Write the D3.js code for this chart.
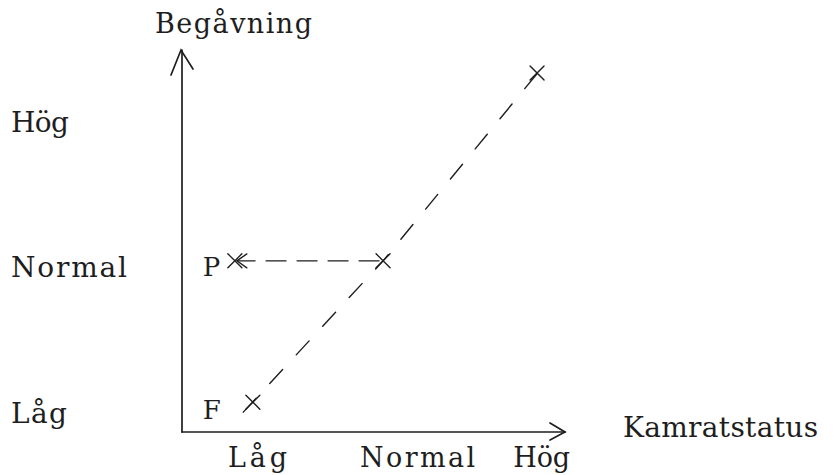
<!DOCTYPE html>
<html>
<head>
<meta charset="utf-8">
<script src="https://cdn.jsdelivr.net/npm/d3@7"></script>
<style>
  html, body { margin: 0; padding: 0; background: #fff; }
  svg { display: block; }
  text { font-family: "DejaVu Serif", "Liberation Serif", serif; fill: #1e1e1e; }
</style>
</head>
<body>
<svg id="chart" width="838" height="475"></svg>
<script>
// ---- data ----
const xTickLabels = ["Låg", "Normal", "Hög"];
const xTickPos    = [1.97, 6.15, 9.39];        // label centres on the Kamratstatus axis
const yTickLabels = ["Låg", "Normal", "Hög"];
const yTickPos    = [0.24, 4.06, 7.85];        // label baselines on the Begåvning axis

const crossNames  = ["F", "Normal", "Hög"];
const crossX      = [1.85, 5.25, 9.27];
const crossY      = [0.78, 4.48, 9.40];

const pointP      = { name: "P", x: 1.38, y: 4.48 };
const diagLineX   = [1.60, 5.25, 9.45];
const diagLineY   = [0.52, 4.48, 9.60];

const xTitle = "Kamratstatus";
const yTitle = "Begåvning";

// ---- scales ----
const W = 838, H = 475;
const x = d3.scaleLinear().domain([0, 10]).range([182, 565]);
const y = d3.scaleLinear().domain([0, 10]).range([432, 50]);

const svg = d3.select("#chart");
const ink = "#1e1e1e";

// axes
const g = svg.append("g").attr("stroke", ink).attr("stroke-width", 1.7)
  .attr("fill", "none").attr("stroke-linecap", "round");

g.append("line").attr("x1", x(0)).attr("y1", y(0)).attr("x2", x(0)).attr("y2", y(10));
g.append("line").attr("x1", x(0)).attr("y1", y(0)).attr("x2", x(10)).attr("y2", y(0));

// axis arrowheads (open)
g.append("path").attr("d", `M${x(0)-11},${y(10)+25} L${x(0)-1},${y(10)} L${x(0)+11},${y(10)+19}`);
g.append("path").attr("d", `M${x(10)-15},${y(0)-9} L${x(10)},${y(0)} L${x(10)-15},${y(0)+8}`);

// diagonal dashed line
const line = d3.line().x(d => x(d[0])).y(d => y(d[1]));
g.append("path")
  .datum(diagLineX.map((v, i) => [v, diagLineY[i]]))
  .attr("d", line)
  .attr("stroke-width", 1.4)
  .attr("stroke-dasharray", "19 20");

// horizontal dashed arrow from Normal to P
g.append("line")
  .attr("x1", x(crossX[1]) - 4).attr("y1", y(pointP.y))
  .attr("x2", x(pointP.x) + 3).attr("y2", y(pointP.y))
  .attr("stroke-width", 1.4)
  .attr("stroke-dasharray", "20 11");
g.append("path")
  .attr("d", `M${x(pointP.x)+12},${y(pointP.y)-7} L${x(pointP.x)+2},${y(pointP.y)} L${x(pointP.x)+12},${y(pointP.y)+7}`)
  .attr("stroke-width", 1.3);

// crosses
const crossData = crossNames.map((n, i) => ({ name: n, x: crossX[i], y: crossY[i] }))
  .concat([pointP]);
const s = 7;
crossData.forEach(d => {
  const cx = x(d.x), cy = y(d.y);
  g.append("path")
    .attr("d", `M${cx-s},${cy-s} L${cx+s},${cy+s} M${cx-s},${cy+s} L${cx+s},${cy-s}`)
    .attr("stroke-width", 1.4);
});

// point labels P and F
svg.append("text").text(pointP.name)
  .attr("x", x(pointP.x) - 32).attr("y", y(pointP.y) + 15)
  .attr("font-size", 26);
svg.append("text").text(crossNames[0])
  .attr("x", x(crossX[0]) - 50).attr("y", y(crossY[0]) + 17)
  .attr("font-size", 26);

// x tick labels
const xWidths = [59, 115, 57];
svg.selectAll("text.xt").data(xTickLabels).join("text")
  .attr("class", "xt")
  .attr("x", (d, i) => x(xTickPos[i]))
  .attr("y", y(0) + 35)
  .attr("text-anchor", "middle")
  .attr("font-size", 27)
  .attr("textLength", (d, i) => xWidths[i])
  .attr("lengthAdjust", "spacing")
  .text(d => d);

// y tick labels
const yWidths = [56, 116, 58];
svg.selectAll("text.yt").data(yTickLabels).join("text")
  .attr("class", "yt")
  .attr("x", 11)
  .attr("y", (d, i) => y(yTickPos[i]))
  .attr("font-size", 28)
  .attr("textLength", (d, i) => yWidths[i])
  .attr("lengthAdjust", "spacing")
  .text(d => d);

// axis titles
svg.append("text").text(yTitle)
  .attr("x", 155).attr("y", 33)
  .attr("font-size", 27).attr("textLength", 157).attr("lengthAdjust", "spacing");
svg.append("text").text(xTitle)
  .attr("x", 623).attr("y", 437)
  .attr("font-size", 28).attr("textLength", 195).attr("lengthAdjust", "spacing");
</script>
</body>
</html>
